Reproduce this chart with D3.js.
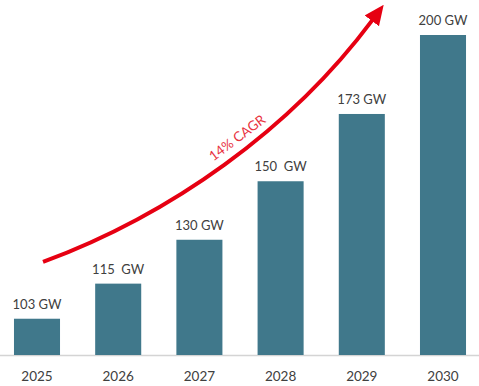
<!DOCTYPE html>
<html>
<head>
<meta charset="utf-8">
<script src="https://cdn.jsdelivr.net/npm/d3@7"></script>
<style>
  body { margin: 0; background: #fff; }
  svg { display: block; }
</style>
</head>
<body>
<svg id="chart"></svg>
<script>
// chart data
const years = ["2025", "2026", "2027", "2028", "2029", "2030"];
const capacity = [103, 115, 130, 150, 173, 200];
const barLabels = ["103 GW", "115  GW", "130 GW", "150  GW", "173 GW", "200 GW"];

// growth arrow as a cubic curve in chart units: [bar index, GW]
const arrowStart = [0.074, 122.4];
const arrowCtrl1 = [1.64, 138.5];
const arrowCtrl2 = [3.12, 167.5];
const arrowEnd = [4.13, 205.1];
const arrowLabel = "14% CAGR";

const width = 479;
const height = 386;
const baseline = 355;

const svg = d3.select("#chart")
  .attr("width", width)
  .attr("height", height);

// x as a band scale, bars ~46px wide
const x = d3.scaleBand()
  .domain(years)
  .range([-3.6, 483.6])
  .paddingInner(0.433)
  .paddingOuter(0.2165);

// y does not start at zero in the original
const y = d3.scaleLinear()
  .domain([90.6, 200])
  .range([baseline, 35]);

// index -> center of the bar, for the annotation
const xi = d3.scaleLinear()
  .domain([0, 1])
  .range([x(years[0]) + x.bandwidth() / 2, x(years[1]) + x.bandwidth() / 2]);

// baseline
svg.append("line")
  .attr("x1", 0)
  .attr("x2", width)
  .attr("y1", baseline + 0.5)
  .attr("y2", baseline + 0.5)
  .attr("stroke", "#d4d4d4")
  .attr("stroke-width", 1.5);

// bars
svg.selectAll(".bar")
  .data(capacity)
  .enter()
  .append("rect")
  .attr("class", "bar")
  .attr("x", (d, i) => x(years[i]))
  .attr("y", d => y(d))
  .attr("width", x.bandwidth())
  .attr("height", d => baseline - y(d))
  .attr("fill", "#40788b");

// value labels above the bars
svg.selectAll(".value")
  .data(capacity)
  .enter()
  .append("text")
  .attr("class", "value")
  .attr("x", (d, i) => x(years[i]) + x.bandwidth() / 2)
  .attr("y", d => y(d) - 10)
  .attr("text-anchor", "middle")
  .attr("font-family", "Lato, 'Open Sans', sans-serif")
  .attr("font-size", 13)
  .attr("fill", "#404040")
  .style("white-space", "pre")
  .text((d, i) => barLabels[i]);

// year labels
svg.selectAll(".year")
  .data(years)
  .enter()
  .append("text")
  .attr("class", "year")
  .attr("x", d => x(d) + x.bandwidth() / 2)
  .attr("y", 380.7)
  .attr("text-anchor", "middle")
  .attr("font-family", "Lato, 'Open Sans', sans-serif")
  .attr("font-size", 13.5)
  .attr("fill", "#404040")
  .text(d => d);

// arrow head
svg.append("defs")
  .append("marker")
  .attr("id", "head")
  .attr("viewBox", "0 0 20 18")
  .attr("refX", 1)
  .attr("refY", 9)
  .attr("markerWidth", 20)
  .attr("markerHeight", 18)
  .attr("markerUnits", "userSpaceOnUse")
  .attr("orient", "auto")
  .append("path")
  .attr("d", "M0,0 L20,9 L0,18 Z")
  .attr("fill", "#e60012");

const pt = d => [xi(d[0]), y(d[1])];
const p0 = pt(arrowStart), c1 = pt(arrowCtrl1), c2 = pt(arrowCtrl2), p1 = pt(arrowEnd);
const arrowPath = d3.path();
arrowPath.moveTo(p0[0], p0[1]);
arrowPath.bezierCurveTo(c1[0], c1[1], c2[0], c2[1], p1[0], p1[1]);

svg.append("path")
  .attr("d", arrowPath.toString())
  .attr("fill", "none")
  .attr("stroke", "#e60012")
  .attr("stroke-width", 4)
  .attr("marker-end", "url(#head)");

// CAGR label along the arrow
svg.append("text")
  .attr("transform", `translate(${xi(2.5)},${y(163.6)}) rotate(-37)`)
  .attr("text-anchor", "middle")
  .attr("font-family", "Lato, 'Open Sans', sans-serif")
  .attr("font-size", 13.5)
  .attr("fill", "#e8343f")
  .text(arrowLabel);
</script>
</body>
</html>
